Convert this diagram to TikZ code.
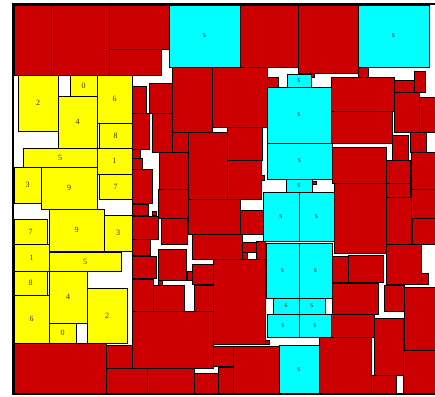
\documentclass[tikz,border=0pt]{standalone}
\usepackage{fontspec}
\setmainfont{Liberation Serif}
\usetikzlibrary{shadows}
\definecolor{rd}{RGB}{204,0,0}
\definecolor{yl}{RGB}{255,255,0}
\definecolor{cy}{RGB}{0,255,255}
\tikzset{
  box/.style={draw=black, line width=0.8pt, drop shadow={shadow xshift=1.2pt,shadow yshift=-1.2pt,fill=black!45,opacity=1}},
  redbox/.style={box, fill=rd},
  ylbox/.style={box, fill=yl},
  cybox/.style={box, fill=cy},
  lbl/.style={font=\fontsize{8}{9}\selectfont, inner sep=0pt, text=black!80},
  frame/.style={draw=black, line width=2.6pt}
}
\newcommand\RB[4]{\path[redbox] (#1,#2) rectangle (#3,#4);}
\newcommand\YB[6]{\path[ylbox] (#1,#2) rectangle (#3,#4); \node[lbl] (#6) at ({(#1+#3)/2},{(#2+#4)/2}) {#5};}
\newcommand\CB[5]{\path[cybox] (#1,#2) rectangle (#3,#4); \node[lbl] (#5) at ({(#1+#3)/2},{(#2+#4)/2}) {s};}
\begin{document}
\begin{tikzpicture}[x=1pt,y=-1pt]
\useasboundingbox (0,0) rectangle (435,396);
\fill[white] (0,0) rectangle (435,396);
\clip (0,0) rectangle (435,396);
% red boxes
\RB{14}{5}{51}{75}
\RB{51}{5}{109}{75}
\RB{109}{5}{169}{49}
\RB{109}{49}{161}{75}
\RB{240}{5}{298}{67}
\RB{298}{5}{358}{73}
\RB{358}{67}{368}{77}
\RB{311}{73}{314}{77}
\RB{267}{77}{278}{87}
\RB{331}{77}{394}{111}
\RB{394}{80}{414}{92}
\RB{414}{71}{425}{92}
\RB{394}{92}{419}{132}
\RB{419}{97}{436}{132}
\RB{331}{111}{392}{143}
\RB{392}{135}{408}{160}
\RB{410}{132}{426}{152}
\RB{411}{152}{436}{189}
\RB{332}{147}{386}{183}
\RB{386}{160}{410}{183}
\RB{386}{183}{410}{197}
\RB{261}{175}{264}{180}
\RB{312}{181}{316}{184}
\RB{132}{86}{146}{113}
\RB{149}{83}{172}{113}
\RB{172}{67}{212}{132}
\RB{212}{67}{267}{127}
\RB{132}{113}{149}{149}
\RB{152}{113}{172}{152}
\RB{172}{132}{188}{152}
\RB{188}{132}{227}{199}
\RB{227}{127}{262}{160}
\RB{227}{160}{261}{199}
\RB{132}{149}{140}{158}
\RB{132}{158}{142}{169}
\RB{132}{169}{152}{203}
\RB{159}{152}{188}{189}
\RB{158}{189}{188}{218}
\RB{188}{199}{240}{234}
\RB{240}{210}{263}{234}
\RB{192}{234}{242}{259}
\RB{242}{242}{256}{252}
\RB{242}{252}{247}{259}
\RB{256}{241}{265}{259}
\RB{132}{204}{148}{215}
\RB{152}{211}{156}{215}
\RB{132}{216}{158}{239}
\RB{161}{218}{187}{244}
\RB{132}{239}{150}{255}
\RB{132}{256}{156}{278}
\RB{158}{249}{186}{280}
\RB{187}{271}{192}{280}
\RB{192}{264}{213}{284}
\RB{213}{259}{265}{344}
\RB{132}{279}{153}{311}
\RB{153}{285}{184}{311}
\RB{158}{280}{162}{285}
\RB{194}{285}{213}{311}
\RB{132}{311}{213}{368}
\RB{14}{343}{106}{394}
\RB{106}{345}{132}{368}
\RB{106}{368}{147}{394}
\RB{147}{368}{194}{394}
\RB{194}{373}{218}{394}
\RB{213}{346}{233}{366}
\RB{218}{367}{233}{394}
\RB{233}{346}{279}{394}
\RB{319}{337}{371}{394}
\RB{334}{183}{386}{253}
\RB{386}{197}{411}{244}
\RB{411}{189}{436}{218}
\RB{412}{218}{436}{244}
\RB{332}{256}{348}{282}
\RB{348}{255}{383}{282}
\RB{386}{244}{421}{284}
\RB{421}{273}{428}{284}
\RB{332}{283}{378}{314}
\RB{384}{285}{404}{311}
\RB{404}{287}{436}{350}
\RB{331}{314}{374}{337}
\RB{374}{318}{403}{375}
\RB{403}{350}{436}{394}
\RB{371}{375}{396}{394}
\RB{265}{340}{269}{344}
% yellow boxes
\YB{18}{75}{58}{131}{2}{ya2}
\YB{70}{75}{97}{96}{0}{ya0}
\YB{58}{96}{97}{148}{4}{ya4}
\YB{97}{75}{132}{123}{6}{ya6}
\YB{99}{123}{132}{148}{8}{ya8}
\YB{23}{148}{97}{167}{5}{ya5}
\YB{97}{148}{132}{174}{1}{ya1}
\YB{14}{167}{41}{203}{3}{ya3}
\YB{41}{167}{97}{209}{9}{ya9}
\YB{99}{174}{132}{199}{7}{ya7}
\YB{14}{219}{47}{244}{7}{yb7}
\YB{49}{209}{104}{251}{9}{yb9}
\YB{104}{215}{132}{251}{3}{yb3}
\YB{14}{244}{49}{271}{1}{yb1}
\YB{49}{252}{121}{271}{5}{yb5}
\YB{14}{271}{47}{295}{8}{yb8}
\YB{49}{271}{87}{323}{4}{yb4}
\YB{14}{295}{49}{343}{6}{yb6}
\YB{49}{323}{76}{343}{0}{yb0}
\YB{87}{288}{127}{343}{2}{yb2}
% cyan boxes
\CB{169}{5}{240}{67}{c1}
\CB{358}{5}{429}{67}{c2}
\CB{287}{74}{311}{87}{c3}
\CB{267}{87}{331}{143}{c4}
\CB{267}{143}{332}{179}{c5}
\CB{286}{179}{312}{192}{c6}
\CB{263}{192}{299}{241}{c7}
\CB{299}{192}{334}{241}{c8}
\CB{266}{243}{299}{298}{c9}
\CB{299}{243}{332}{298}{c10}
\CB{273}{298}{299}{314}{c11}
\CB{299}{298}{325}{314}{c12}
\CB{267}{314}{299}{337}{c13}
\CB{299}{314}{331}{337}{c14}
\CB{279}{345}{319}{394}{c15}
% frame
\draw[frame] (438,4) -- (13,4) -- (13,394) -- (438,394);
\end{tikzpicture}
\end{document}
